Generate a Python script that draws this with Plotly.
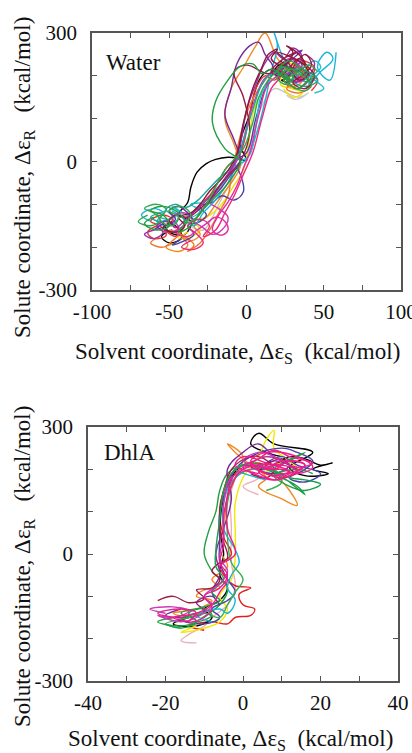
import plotly.graph_objects as go

# ---------------- Water panel trajectories (solvent coord, solute coord) ----------------
W_BLACK_X = [-48,-55,-50,-42,-46,-54,-50,-40,-36,-44,-38,-36,-32,-26,-20,-12,-6,0,-4,2,6,10,16,22,28,24,18,26,32]
W_BLACK_Y = [-160,-175,-190,-178,-150,-140,-165,-170,-140,-125,-95,-60,-25,-5,5,10,8,2,40,110,170,200,215,190,205,230,210,185,200]
W_RED_X = [-58,-64,-60,-52,-56,-62,-55,-48,-52,-45,-40,-35,-30,-24,-18,-12,-6,-2,2,6,12,18,26,34,40,36,44,38,30,24,30,38,46,42]
W_RED_Y = [-150,-165,-180,-172,-150,-140,-125,-135,-160,-175,-150,-120,-100,-80,-45,-10,5,40,110,170,200,190,215,195,210,235,220,180,170,195,225,205,190,165]
W_GREEN_X = [-60,-66,-58,-50,-54,-62,-56,-46,-40,-44,-36,-30,-22,-14,-8,-4,-14,-22,-20,-12,-4,4,10,16,24,30,22,34,40,32,26,20,28,36,44,38]
W_GREEN_Y = [-130,-145,-160,-150,-125,-115,-105,-115,-140,-165,-150,-120,-90,-60,-30,0,30,90,140,190,222,228,205,215,200,185,220,210,195,170,190,210,235,215,200,185]
W_BLUE_X = [-42,-48,-40,-34,-38,-30,-26,-30,-22,-16,-8,-2,-4,-8,0,6,12,16,22,30,26,20,28,36,30]
W_BLUE_Y = [-180,-195,-185,-170,-150,-140,-125,-105,-95,-80,-90,-70,-30,0,20,100,170,200,220,210,195,210,240,225,200]
W_CYAN_X = [-62,-68,-60,-54,-58,-50,-44,-48,-40,-34,-28,-20,-12,-6,0,6,12,16,20,18,24,32,40,48,56,52,46,54,58]
W_CYAN_Y = [-140,-125,-110,-120,-140,-150,-130,-115,-135,-150,-120,-90,-50,-10,5,60,140,210,270,300,240,200,185,210,240,255,220,190,255]
W_MAGENTA_X = [-50,-58,-52,-44,-48,-40,-34,-28,-22,-16,-12,-18,-24,-20,-14,-8,-4,0,6,12,20,28,24,32,38,30]
W_MAGENTA_Y = [-135,-150,-165,-155,-130,-120,-140,-155,-170,-160,-130,-110,-95,-70,-40,-10,20,80,150,195,210,190,220,215,195,185]
W_ORANGE_X = [-46,-52,-44,-38,-42,-36,-30,-34,-26,-20,-14,-8,-4,-8,-14,-10,-2,6,12,20,28,24,34,40,34,26]
W_ORANGE_Y = [-190,-200,-210,-195,-175,-185,-170,-150,-130,-100,-70,-40,-10,40,100,170,220,270,300,240,210,230,200,220,180,175]
W_YELLOW_X = [-38,-44,-36,-30,-34,-26,-20,-14,-8,-2,0,2,4,8,14,20,26,32,28,22,30,36,30,24]
W_YELLOW_Y = [-165,-180,-175,-160,-140,-130,-115,-90,-55,-20,10,60,110,150,180,200,195,210,230,180,170,160,150,170]
W_PURPLE_X = [-54,-60,-52,-46,-50,-44,-38,-34,-28,-22,-16,-10,-4,-8,-14,-10,-6,2,8,12,16,20,26,22,30,36,28]
W_PURPLE_Y = [-145,-160,-150,-135,-115,-105,-120,-135,-110,-85,-60,-30,0,50,110,170,230,270,278,250,230,205,230,215,240,260,245]
W_MAROON_X = [-44,-50,-46,-38,-30,-24,-18,-10,-4,2,-2,-8,0,14,20,26,32,38,42,36,30,38,44,40,34,28,22,16,24,32]
W_MAROON_Y = [-155,-140,-125,-130,-110,-90,-60,-25,0,70,150,210,225,205,215,195,230,250,225,200,185,170,200,220,240,220,200,210,240,255]
W_MAROON2_X = [-48,-54,-46,-40,-44,-36,-30,-24,-16,-10,-6,-2,4,10,14,20,16,24,30,26,34,38,32,26,20,28,36,40,34,28,22]
W_MAROON2_Y = [-140,-155,-165,-150,-130,-120,-100,-70,-40,-10,20,90,170,220,250,262,240,225,255,270,250,225,210,235,255,245,230,205,190,215,235]
W_VIOLET_X = [-60,-66,-60,-54,-58,-50,-46,-38,-30,-22,-14,-8,-4,0,6,12,18,24,30,36,32,26,32,40,44,38]
W_VIOLET_Y = [-160,-170,-180,-165,-150,-140,-155,-130,-105,-75,-40,-5,40,120,180,230,255,240,265,245,220,200,185,200,230,250]
W_PINK_X = [-36,-42,-34,-28,-32,-38,-30,-24,-28,-20,-14,-8,-2,4,10,16,22,20,28,34,26]
W_PINK_Y = [-185,-200,-205,-190,-170,-150,-135,-150,-175,-160,-120,-80,-30,20,100,170,200,220,215,195,185]
W_TEAL_X = [-56,-62,-56,-48,-52,-46,-40,-32,-26,-18,-10,-6,-2,4,10,16,24,32,40,46,38,30,36,44,40]
W_TEAL_Y = [-120,-130,-140,-128,-112,-100,-108,-92,-70,-40,-15,10,50,120,180,205,200,215,210,190,175,190,205,200,180]
W_GRAY_X = [-30,-36,-28,-22,-18,-12,-6,0,4,10,18,26,34,40,32,26]
W_GRAY_Y = [-140,-150,-160,-130,-100,-60,-20,10,60,130,170,160,150,160,145,155]
W_GREEN2_X = [-64,-70,-62,-56,-60,-66,-58,-52,-56,-48,-44,-50,-42,-36,-40,-32,-26,-20,-14,-8,-2,4,8,14,18,24,30,26,20,28,36,42,38,30,24,32,40,46]
W_GREEN2_Y = [-125,-140,-150,-138,-120,-110,-100,-112,-135,-150,-130,-115,-105,-125,-145,-130,-100,-60,-20,5,30,90,150,190,205,220,200,180,195,215,200,180,165,175,190,205,225,210]
W_MAGENTA2_X = [-40,-46,-38,-32,-26,-20,-14,-12,-16,-22,-18,-12,-6,-2,2,8,14,22,30,38,34,28,22,30,38]
W_MAGENTA2_Y = [-150,-165,-175,-160,-145,-130,-140,-160,-172,-160,-125,-95,-55,-15,20,110,180,200,185,200,225,240,215,200,190]
W_CYAN2_X = [-52,-58,-50,-44,-48,-42,-36,-30,-36,-28,-22,-16,-10,-4,2,6,10,18,26,34,42,48,44,38,46,50,44]
W_CYAN2_Y = [-115,-125,-135,-120,-105,-118,-130,-115,-100,-95,-80,-55,-25,0,15,80,160,195,210,190,200,220,235,210,185,170,160]
W_ORANGE2_X = [-56,-62,-54,-48,-44,-50,-40,-34,-38,-30,-24,-18,-12,-10,-8,-4,2,10,18,24,30,36,32,26,34,42]
W_ORANGE2_Y = [-175,-190,-200,-185,-170,-160,-175,-195,-210,-190,-160,-120,-80,-40,0,60,130,180,210,200,220,205,185,170,160,175]

# ---------------- DhlA panel trajectories ----------------
D_BLACK_X = [-14,-18,-12,-8,-10,-6,-4,-6,-5,-6,-5,-3,0,4,8,12,16,20,23,18,22,16,12,18,8,4,2,6,10]
D_BLACK_Y = [-150,-165,-170,-150,-130,-110,-80,-50,0,60,130,180,210,200,210,230,225,210,215,200,190,185,205,240,260,285,260,240,230]
D_RED_X = [-10,-14,-8,-4,-2,2,3,0,-1,2,-2,-4,-6,-3,-5,-6,-4,-2,2,6,10,14,10,6,4]
D_RED_Y = [-180,-170,-160,-165,-150,-145,-130,-120,-95,-80,-75,-60,-30,0,40,110,170,200,215,210,190,200,225,210,190]
D_GREEN_X = [-18,-22,-16,-12,-16,-10,-8,-12,-6,-4,-8,-10,-9,-7,-6,-4,0,6,10,14,16,12,8,12,16,10]
D_GREEN_Y = [-150,-160,-170,-158,-140,-130,-145,-160,-120,-80,-40,0,50,100,150,190,210,200,180,160,140,170,200,220,240,215]
D_BLUE_X = [-12,-16,-10,-6,-8,-4,-2,-4,-6,-6,-6,-4,-2,2,10,14,18,16,12,16,20,14,10,6]
D_BLUE_Y = [-140,-155,-165,-150,-130,-110,-90,-60,-20,30,100,160,200,230,250,240,220,200,180,170,190,210,230,215]
D_CYAN_X = [-8,-12,-6,-4,-2,-4,-3,-1,-2,-5,-5,-3,2,8,12,6,2,-2,2,6]
D_CYAN_Y = [-160,-145,-130,-140,-110,-80,-50,-20,10,60,120,170,200,190,210,230,215,200,185,175]
D_MAGENTA_X = [-20,-24,-18,-14,-18,-22,-16,-12,-8,-10,-6,-4,-6,-5,-5,-3,2,10,8,4,0,6,12,8]
D_MAGENTA_Y = [-140,-130,-125,-135,-150,-145,-160,-150,-120,-100,-70,-40,-10,40,120,180,200,215,230,240,220,205,195,185]
D_ORANGE_X = [-14,-18,-12,-8,-12,-10,-6,-8,-4,-6,-5,-4,-2,0,-4,-2,2,6,4,10,14,12,8]
D_ORANGE_Y = [-150,-140,-130,-110,-100,-85,-80,-60,-30,10,70,130,180,230,260,240,210,180,160,130,115,150,190]
D_YELLOW_X = [-12,-16,-10,-6,-4,-6,-3,-2,-2,-2,0,4,6,8,8,12,14,10,6,10]
D_YELLOW_Y = [-170,-185,-175,-160,-130,-100,-60,-10,50,120,180,230,270,292,250,220,200,180,200,215]
D_PURPLE_X = [-16,-20,-14,-10,-12,-8,-6,-8,-6,-7,-5,-3,-4,0,4,8,12,8,4,8,14]
D_PURPLE_Y = [-130,-145,-150,-135,-115,-100,-120,-90,-50,0,60,130,200,240,260,230,210,190,200,220,200]
D_MAROON_X = [-22,-18,-14,-10,-12,-8,-6,-8,-6,-4,-6,-5,-2,4,8,6,2]
D_MAROON_Y = [-110,-100,-115,-105,-85,-80,-60,-40,-20,-10,60,150,210,230,200,180,190]
D_LIGHTPINK_X = [-12,-16,-14,-10,-8,-4,-2,-3,-3,-3,0,4,0,4]
D_LIGHTPINK_Y = [-210,-205,-190,-170,-150,-120,-80,-20,60,150,200,180,160,140]
D_LIME_X = [-16,-20,-14,-10,-6,-4,-2,0,-3,-4,-4,-2,2,8,10,6]
D_LIME_Y = [-175,-165,-150,-140,-150,-120,-90,-60,-20,40,120,180,200,200,170,150]
D_PINK_X = [-14,-18,-12,-8,-6,-4,-6,-2,-4,-4,-2,2,8,12,16,12,8,4,10,14,18,14,6,2,4,8,12,6,0,-2,4]
D_PINK_Y = [-160,-150,-140,-120,-90,-60,-30,0,60,140,190,210,200,220,210,185,175,195,200,190,205,230,240,220,200,185,195,215,230,210,190]
D_PINK2_X = [-18,-22,-16,-12,-14,-10,-8,-10,-6,-4,-6,-5,-5,-3,0,10,14,10,6,2,6,10,14,18,12,8,4,0,4,8,12,16,10,6]
D_PINK2_Y = [-150,-140,-130,-140,-160,-150,-125,-100,-80,-50,-20,20,90,160,200,210,195,180,190,210,230,220,205,215,230,245,225,205,185,175,190,210,220,200]
D_GREEN2_X = [-20,-16,-12,-14,-10,-6,-8,-5,-7,-7,-6,-5,-3,2,8,12,16,20,16,12,8,14,18]
D_GREEN2_Y = [-165,-175,-160,-140,-125,-110,-90,-60,-30,10,80,150,190,215,195,180,175,165,150,160,185,200,190]

# tick values / labels
W_XTICKS = [-100,-50,0,50,100]
W_XLABELS = ["-100","-50","0","50","100"]
D_XTICKS = [-40,-20,0,20,40]
D_XLABELS = ["-40","-20","0","20","40"]
YTICKS = [-300,0,300]
YLABELS = ["-300","0","300"]

water = [
    (W_GRAY_X, W_GRAY_Y, "#c8c8c8"),
    (W_BLACK_X, W_BLACK_Y, "#000000"),
    (W_RED_X, W_RED_Y, "#e8352a"),
    (W_YELLOW_X, W_YELLOW_Y, "#f2e000"),
    (W_ORANGE_X, W_ORANGE_Y, "#f08a24"),
    (W_ORANGE2_X, W_ORANGE2_Y, "#f07830"),
    (W_BLUE_X, W_BLUE_Y, "#4b3fa8"),
    (W_CYAN_X, W_CYAN_Y, "#1ab4d8"),
    (W_CYAN2_X, W_CYAN2_Y, "#20c0d0"),
    (W_MAGENTA_X, W_MAGENTA_Y, "#c83cb4"),
    (W_PINK_X, W_PINK_Y, "#f0287c"),
    (W_MAGENTA2_X, W_MAGENTA2_Y, "#e030a0"),
    (W_TEAL_X, W_TEAL_Y, "#18a8a0"),
    (W_VIOLET_X, W_VIOLET_Y, "#9a30b0"),
    (W_PURPLE_X, W_PURPLE_Y, "#7a2a98"),
    (W_MAROON_X, W_MAROON_Y, "#9c1c44"),
    (W_MAROON2_X, W_MAROON2_Y, "#8a1838"),
    (W_GREEN2_X, W_GREEN2_Y, "#30a850"),
    (W_GREEN_X, W_GREEN_Y, "#20a040"),
]
dhla = [
    (D_LIGHTPINK_X, D_LIGHTPINK_Y, "#eab0bc"),
    (D_RED_X, D_RED_Y, "#e02020"),
    (D_BLACK_X, D_BLACK_Y, "#000000"),
    (D_YELLOW_X, D_YELLOW_Y, "#f2e800"),
    (D_ORANGE_X, D_ORANGE_Y, "#f08a24"),
    (D_BLUE_X, D_BLUE_Y, "#4b3fa8"),
    (D_GREEN_X, D_GREEN_Y, "#20a040"),
    (D_CYAN_X, D_CYAN_Y, "#1ab4d8"),
    (D_PURPLE_X, D_PURPLE_Y, "#7a2a98"),
    (D_MAROON_X, D_MAROON_Y, "#9c1c44"),
    (D_LIME_X, D_LIME_Y, "#38b050"),
    (D_GREEN2_X, D_GREEN2_Y, "#18a048"),
    (D_MAGENTA_X, D_MAGENTA_Y, "#c83cb4"),
    (D_PINK2_X, D_PINK2_Y, "#e8208c"),
    (D_PINK_X, D_PINK_Y, "#f01c84"),
]

fig = go.Figure()
for xs, ys, c in water:
    fig.add_trace(go.Scatter(x=xs, y=ys, mode="lines", line=dict(color=c, width=1.4, shape="spline", smoothing=1.1),
                             xaxis="x", yaxis="y", showlegend=False, hoverinfo="skip"))
for xs, ys, c in dhla:
    fig.add_trace(go.Scatter(x=xs, y=ys, mode="lines", line=dict(color=c, width=1.4, shape="spline", smoothing=1.1),
                             xaxis="x2", yaxis="y2", showlegend=False, hoverinfo="skip"))

W, H = 412, 753
SERIF = "Liberation Serif, Times New Roman, serif"
axis_common = dict(showline=True, linecolor="#555555", linewidth=1.5, mirror="ticks", ticks="inside",
                   ticklen=5, tickwidth=1.2, tickcolor="#555555", showgrid=False, zeroline=False,
                   automargin=False, ticklabeloverflow="allow",
                   tickfont=dict(family=SERIF, size=21, color="#111111"), fixedrange=True)
minor_common = dict(ticks="inside", ticklen=5, tickwidth=1.2, tickcolor="#555555", showgrid=False)

fig.update_layout(
    template="none",
    width=W, height=H, margin=dict(l=0, r=0, t=0, b=0, pad=0), autosize=False,
    paper_bgcolor="white", plot_bgcolor="white",
    xaxis=dict(domain=[92/W, 401/W], range=[-100, 100], tickvals=W_XTICKS, ticktext=W_XLABELS,
               anchor="y", ticklabelstandoff=2, minor=dict(dtick=25, **minor_common), **axis_common),
    yaxis=dict(domain=[1-290/H, 1-33/H], range=[-300, 300], tickvals=YTICKS, ticktext=YLABELS,
               anchor="x", ticklabelstandoff=9, minor=dict(dtick=100, **minor_common), **axis_common),
    xaxis2=dict(domain=[88/W, 398/W], range=[-40, 40], tickvals=D_XTICKS, ticktext=D_XLABELS,
                anchor="y2", ticklabelstandoff=2, minor=dict(dtick=10, **minor_common), **axis_common),
    yaxis2=dict(domain=[1-681/H, 1-427/H], range=[-300, 300], tickvals=YTICKS, ticktext=YLABELS,
                anchor="x2", ticklabelstandoff=9, minor=dict(dtick=100, **minor_common), **axis_common),
)

xt = "Solvent coordinate, \u0394\u03b5<sub>S</sub>\u00a0\u00a0(kcal/mol)"
yt = "Solute coordinate, \u0394\u03b5<sub>R</sub>\u00a0\u00a0\u00a0(kcal/mol)"
tfont = dict(family=SERIF, size=23, color="#111111")
ann = [
    dict(text=xt, x=237/W, y=1-353/H),
    dict(text=xt, x=230/W, y=1-740/H),
    dict(text=yt, x=24/W, y=1-178/H, textangle=-90),
    dict(text=yt, x=24/W, y=1-567/H, textangle=-90),
]
for a in ann:
    fig.add_annotation(xref="paper", yref="paper", showarrow=False, font=tfont,
                       xanchor="center", yanchor="middle", **a)
fig.add_annotation(xref="paper", yref="paper", x=104/W, y=1-62/H, text="Water", showarrow=False,
                   xanchor="left", yanchor="middle", font=dict(family=SERIF, size=23, color="#111111"))
fig.add_annotation(xref="paper", yref="paper", x=102/W, y=1-452/H, text="DhlA", showarrow=False,
                   xanchor="left", yanchor="middle", font=dict(family=SERIF, size=23, color="#111111"))

fig.write_html("out.html", config=dict(displayModeBar=False))
